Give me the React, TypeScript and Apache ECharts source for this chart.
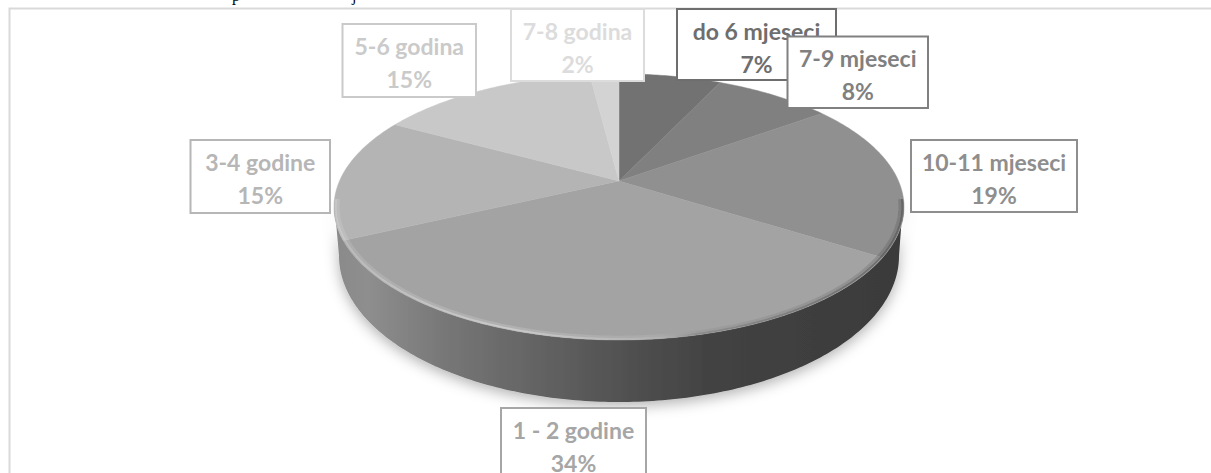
import React, { useEffect, useRef } from "react";
import * as echarts from "echarts";

const categories = ["do 6 mjeseci", "7-9 mjeseci", "10-11 mjeseci", "1 - 2 godine", "3-4 godine", "5-6 godina", "7-8 godina"];
const percents = [7, 8, 19, 34, 15, 15, 2];
const sliceColors = ["#727272", "#808080", "#909090", "#a3a3a3", "#b4b4b4", "#c8c8c8", "#d3d3d3"];
const labelColors = ["#6e6e6e", "#808080", "#8e8e8e", "#a6a6a6", "#b6b6b6", "#cacaca", "#dcdcdc"];
// label boxes: x0, y0, x1, y1
const labelBoxes = [
  [677, 9, 836, 80],
  [787.5, 36.5, 928, 108],
  [911, 140, 1077, 212],
  [501, 408, 646, 490],
  [190.5, 140, 330, 213],
  [342.5, 24, 476, 97],
  [511, 9, 644, 81],
];

const AX = 619, AY = 181, RX = 279.5, RY = 128, K = 0.195;
const project = (deg: number, r = 1) => {
  const t = (deg * Math.PI) / 180;
  const u = Math.sin(t) * r, v = -Math.cos(t) * r;
  const w = 1 - K * v;
  return [AX + (RX * u) / w, AY + (RY * v) / w];
};
const arcPoints = (a0: number, a1: number, r = 1) => {
  const n = Math.max(2, Math.ceil(Math.abs(a1 - a0) * 1.5));
  const pts: number[][] = [];
  for (let i = 0; i <= n; i++) pts.push(project(a0 + ((a1 - a0) * i) / n, r));
  return pts;
};
const total = percents.reduce((a, b) => a + b, 0);
const startAngle = (i: number) => (percents.slice(0, i).reduce((a, b) => a + b, 0) / total) * 360;

const wallPoints = () => {
  const cx = 619, cy = 256, rx = 280, ry = 146;
  const pts: number[][] = [];
  const top = arcPoints(262, 98);
  pts.push(...top);
  pts.push([901.5, 222], [899, 256]);
  for (let d = 0; d <= 180; d += 1) {
    const t = (d * Math.PI) / 180;
    pts.push([cx + rx * Math.cos(t), cy + ry * Math.sin(t)]);
  }
  pts.push([336, 222]);
  return pts;
};

export default function App() {
  const ref = useRef<HTMLDivElement>(null);
  useEffect(() => {
    const chart = echarts.init(ref.current!, undefined, { renderer: "svg" });
    const grad = (stops: [number, string][]) =>
      new echarts.graphic.LinearGradient(0, 0, 1, 0, stops.map(([offset, color]) => ({ offset, color })));
    chart.setOption({
      animation: false,
      backgroundColor: "#ffffff",
      graphic: [
        { type: "rect", z: 0, shape: { x: 9.5, y: 8.5, width: 1230, height: 500 }, style: { fill: "none", stroke: "#d9d9d9", lineWidth: 2 } },
        { type: "text", z: 0, x: 232, y: -13, style: { text: "p", fill: "#000", font: "16px 'Liberation Serif'" } },
        { type: "text", z: 0, x: 352, y: -13, style: { text: "j", fill: "#000", font: "16px 'Liberation Serif'" } },
      ],
      series: [
        {
          type: "custom",
          coordinateSystem: "none",
          z: 1,
          silent: true,
          data: [0],
          renderItem: () => ({
            type: "polygon",
            shape: { points: wallPoints() },
            style: {
              fill: grad([
                [0, "#8a8a8a"],
                [0.06, "#8e8e8e"],
                [0.2, "#767676"],
                [0.5, "#525252"],
                [0.65, "#434343"],
                [1, "#3a3a3a"],
              ]),
              shadowBlur: 14,
              shadowColor: "rgba(0,0,0,0.3)",
              shadowOffsetY: 4,
            },
          }),
        },
        {
          type: "custom",
          coordinateSystem: "none",
          z: 2,
          silent: true,
          data: percents.map((v, i) => ({ name: categories[i], value: [i, v] })),
          renderItem: (_p: any, api: any) => {
            const i = api.value(0);
            const a0 = startAngle(i);
            const a1 = a0 + (api.value(1) / total) * 360;
            return {
              type: "polygon",
              shape: { points: [[AX, AY], ...arcPoints(a0, a1)] },
              style: { fill: sliceColors[i], stroke: sliceColors[i], lineWidth: 0.5 },
            };
          },
        },
        {
          type: "custom",
          coordinateSystem: "none",
          z: 3,
          silent: true,
          data: [0],
          renderItem: () => ({
            type: "group",
            children: [
              {
                type: "polyline",
                shape: { points: arcPoints(262, 98, 0.988) },
                style: {
                  fill: "none",
                  lineWidth: 4,
                  stroke: grad([
                    [0, "rgba(255,255,255,0.12)"],
                    [0.3, "rgba(255,255,255,0.16)"],
                    [0.56, "rgba(255,255,255,0.08)"],
                    [0.64, "rgba(90,90,90,0.08)"],
                    [1, "rgba(70,70,70,0.25)"],
                  ]),
                },
              },
              {
                type: "polyline",
                shape: { points: arcPoints(262, 98, 0.995) },
                style: {
                  fill: "none",
                  lineWidth: 2,
                  stroke: grad([
                    [0, "rgba(255,255,255,0.2)"],
                    [0.3, "rgba(255,255,255,0.32)"],
                    [0.56, "rgba(255,255,255,0.1)"],
                    [0.64, "rgba(80,80,80,0.2)"],
                    [1, "rgba(60,60,60,0.45)"],
                  ]),
                },
              },
            ],
          }),
        },
        {
          type: "custom",
          coordinateSystem: "none",
          z: 4,
          silent: true,
          data: percents.map((v, i) => ({ name: categories[i], value: [i, v] })),
          renderItem: (_p: any, api: any) => {
            const i = api.value(0);
            const [x0, y0, x1, y1] = labelBoxes[i];
            const cx = (x0 + x1) / 2;
            const line1 = y0 + 21.5;
            return {
              type: "group",
              children: [
                { type: "rect", z2: i * 2, shape: { x: x0, y: y0, width: x1 - x0, height: y1 - y0 }, style: { fill: "#fff", stroke: labelColors[i], lineWidth: 2 } },
                { type: "text", z2: i * 2 + 1, x: cx, y: line1, style: { text: categories[i], fill: labelColors[i], font: "700 23px Lato", align: "center", verticalAlign: "middle" } },
                { type: "text", z2: i * 2 + 1, x: cx, y: line1 + 33, style: { text: api.value(1) + "%", fill: labelColors[i], font: "700 23px Lato", align: "center", verticalAlign: "middle" } },
              ],
            };
          },
        },
      ],
    });
    return () => chart.dispose();
  }, []);
  return <div ref={ref} style={{ position: "absolute", left: 0, top: 0, width: 1211, height: 473 }} />;
}
